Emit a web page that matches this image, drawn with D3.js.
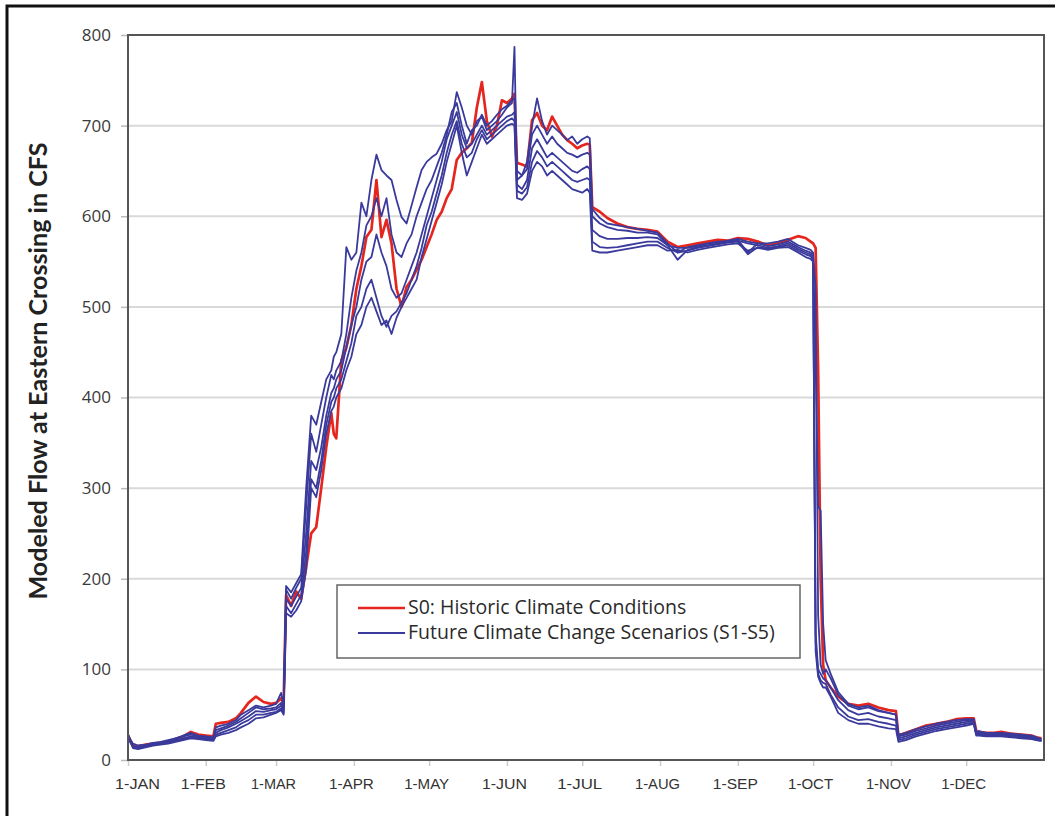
<!DOCTYPE html>
<html>
<head>
<meta charset="utf-8">
<script src="https://cdn.jsdelivr.net/npm/d3@7"></script>
<style>body{margin:0;background:#fff;}</style>
</head>
<body>
<script>
// day of year (0 = 1-Jan) for every reading
const days = [
	0,2,4,7,10,13,16,19,22,25,28,
	31,34,35,37,40,43,45,48,51,54,57,
	59,61,62,63,65,67,69,71,73,75,77,79,81,82,83,85,87,89,
	91,93,95,97,99,101,103,105,107,109,111,113,115,117,119,
	121,123,125,127,129,131,133,135,137,139,141,143,145,147,149,151,153,
	154,155,
	157,159,161,163,165,167,169,171,173,175,177,179,181,
	183,184,185,
	188,191,195,199,203,207,211,
	215,219,223,227,231,235,239,243,
	247,251,255,259,263,267,270,272,
	273,274,275,276,277,278,280,283,287,291,295,299,303,306,
	307,310,314,318,322,326,330,334,337,338,
	339,342,345,348,352,356,360,362,364
];

const monthDays = [0,31,59,90,120,151,181,212,243,273,304,334];
const monthLabels = ["1-JAN","1-FEB","1-MAR","1-APR","1-MAY","1-JUN","1-JUL","1-AUG","1-SEP","1-OCT","1-NOV","1-DEC"];
const yTicks = [0,100,200,300,400,500,600,700,800];

// S0 historic
const historic = [
	27,16,15,17,18,19,20,23,26,31,28,
	27,26,40,41,42,46,52,63,70,64,62,
	63,68,62,182,170,186,178,213,250,257,300,345,383,360,355,441,455,480,
	520,545,577,585,640,577,596,570,520,500,522,530,541,552,566,
	580,596,605,620,630,662,670,675,681,720,748,705,688,700,728,725,730,
	735,659,
	657,655,706,714,700,695,710,700,690,684,680,675,678,
	680,679,610,
	605,598,592,588,586,585,583,
	572,566,568,570,572,574,573,576,
	575,572,568,570,574,578,576,572,
	570,565,430,200,105,88,80,70,62,60,62,58,55,54,
	27,30,34,38,40,42,45,46,46,32,
	31,30,30,31,29,28,27,25,24
];

// S1-S5 future scenarios
const s1 = [
	29,15,14,16,18,19,21,24,27,30,27,
	26,25,36,38,40,44,50,55,60,58,60,
	62,74,60,192,185,195,205,300,380,370,395,420,430,445,450,470,566,552,
	560,615,600,640,668,651,645,640,618,599,592,612,632,651,660,
	665,669,680,695,705,737,720,700,690,705,710,695,700,705,712,720,725,
	787,640,
	645,660,700,730,705,690,700,695,690,684,688,680,685,
	688,686,608,
	598,592,590,588,586,584,582,
	570,560,566,568,570,572,572,574,
	560,570,570,572,575,568,565,563,
	560,440,280,275,150,110,95,75,62,58,60,55,52,50,
	28,30,34,37,40,42,44,45,45,31,
	32,30,30,30,29,28,27,25,23
];
const s2 = [
	26,18,16,17,19,20,22,24,26,28,26,
	25,24,33,35,38,42,46,52,58,56,57,
	58,63,57,188,178,190,200,280,360,340,370,400,425,420,430,440,470,510,
	540,560,590,600,620,600,620,580,560,555,570,580,600,615,630,
	640,655,670,690,715,725,700,680,695,700,712,700,705,712,718,722,728,
	730,650,
	645,652,690,700,690,680,688,680,675,670,668,665,668,
	670,668,600,
	592,588,585,584,582,582,580,
	568,565,565,567,570,571,573,575,
	572,570,567,569,572,566,562,560,
	558,520,160,105,95,100,90,72,60,56,58,54,52,50,
	26,28,32,35,38,40,42,44,44,30,
	30,29,29,29,28,27,26,24,23
];
const s3 = [
	24,14,13,15,17,18,20,22,24,26,25,
	24,23,30,33,36,40,43,48,54,53,55,
	56,60,54,178,170,180,190,250,330,320,345,380,405,410,420,430,455,480,
	500,530,550,555,580,560,545,520,510,515,530,545,560,580,600,
	620,640,660,685,700,715,690,675,680,690,700,690,695,700,705,710,712,
	715,635,
	630,640,675,685,675,665,670,665,660,655,650,648,652,
	655,652,585,
	578,575,575,576,576,577,576,
	568,552,563,566,568,570,572,573,
	570,568,565,567,570,564,560,558,
	555,140,100,95,90,88,80,66,55,50,52,48,46,44,
	24,26,30,33,36,38,40,42,42,29,
	29,28,28,28,27,26,25,23,22
];
const s4 = [
	25,15,14,16,17,18,19,21,23,25,24,
	23,22,28,30,33,36,40,44,50,50,52,
	53,57,52,170,162,172,182,230,310,300,330,370,395,400,410,420,440,460,
	490,500,520,530,510,490,478,490,495,505,515,530,545,565,590,
	605,625,645,670,690,705,680,665,670,685,695,685,690,695,700,705,708,
	705,628,
	625,632,660,672,665,655,660,655,650,645,640,638,640,
	642,640,572,
	566,565,566,568,570,572,572,
	565,560,562,565,567,569,571,572,
	558,566,564,566,568,562,558,556,
	552,130,95,88,85,84,72,58,48,44,45,42,40,38,
	22,24,28,31,34,36,38,40,41,28,
	28,27,27,27,26,25,24,22,21
];
const s5 = [
	27,13,12,14,16,17,18,20,22,24,23,
	22,21,26,28,30,33,36,40,46,47,50,
	52,55,50,162,158,165,175,210,300,290,320,360,385,390,400,410,430,445,
	470,480,500,510,495,480,485,470,488,500,510,520,530,555,575,
	595,615,635,660,680,700,670,645,660,675,690,680,685,690,695,700,702,
	700,620,
	618,625,650,660,655,645,650,645,640,635,630,628,626,
	630,626,562,
	560,560,562,564,566,568,568,
	562,563,560,563,565,567,569,570,
	562,565,563,565,566,560,555,553,
	550,120,92,85,80,80,70,52,44,40,40,37,35,34,
	20,22,26,29,32,34,36,38,40,27,
	27,26,26,26,25,24,23,22,21
];
const scenarios = [s1, s2, s3, s4, s5];
const legendLabels = ["S0: Historic Climate Conditions", "Future Climate Change Scenarios (S1-S5)"];

function init(){
	const svg = d3.select("body").append("svg")
		.attr("width", 1055)
		.attr("height", 816)
		.style("background-color", "#fff");

	// outer frame (cropped at right and bottom)
	svg.append("path")
		.attr("d", "M7,816 V6 H1055")
		.attr("fill", "none")
		.attr("stroke", "#111")
		.attr("stroke-width", 3);

	const left = 128, right = 1044, top = 35, bottom = 760;
	const x = d3.scaleLinear().domain([0, 365]).range([left, right]);
	const y = d3.scaleLinear().domain([0, 800]).range([bottom, top]);

	// gridlines
	svg.append("g").selectAll("line")
		.data(yTicks.filter(t => t > 0 && t < 800))
		.join("line")
		.attr("x1", left).attr("x2", right)
		.attr("y1", d => y(d)).attr("y2", d => y(d))
		.attr("stroke", "#d9d9d9")
		.attr("stroke-width", 2);

	// y axis
	const yAxis = svg.append("g")
		.attr("transform", `translate(${left},0)`)
		.call(d3.axisLeft(y).tickValues(yTicks).tickSize(7).tickPadding(10).tickFormat(d3.format("d")));
	yAxis.select(".domain").remove();
	yAxis.selectAll(".tick line").attr("stroke", "#bbb").attr("stroke-width", 1.5);
	yAxis.selectAll("text")
		.attr("font-family", "'Open Sans', Lato, sans-serif")
		.attr("font-size", "17px")
		.attr("fill", "#3a3a3a");

	// x axis
	const xAxis = svg.append("g")
		.attr("transform", `translate(0,${bottom})`)
		.call(d3.axisBottom(x).tickValues(monthDays).tickSize(6).tickPadding(13)
			.tickFormat((d, i) => monthLabels[i]));
	xAxis.select(".domain").remove();
	xAxis.selectAll(".tick line").attr("stroke", "#ccc").attr("stroke-width", 1.5);
	xAxis.selectAll("text")
		.attr("font-family", "'Liberation Sans', Arial, sans-serif")
		.attr("font-size", "14px")
		.attr("fill", "#333")
		.attr("dx", (d, i) => i === 0 ? 9 : -3)
		.attr("textLength", 45)
		.attr("lengthAdjust", "spacingAndGlyphs");

	const line = d3.line()
		.defined(d => d[1] != null)
		.x(d => x(d[0]))
		.y(d => y(d[1]));

	svg.append("path")
		.datum(days.map((d, i) => [d, historic[i]]))
		.attr("fill", "none")
		.attr("stroke", "#e5261f")
		.attr("stroke-width", 2.7)
		.attr("stroke-linejoin", "round")
		.attr("d", line);

	svg.append("g").selectAll("path")
		.data(scenarios)
		.join("path")
		.attr("fill", "none")
		.attr("stroke", "#3a3a9c")
		.attr("stroke-width", 1.8)
		.attr("stroke-linejoin", "round")
		.attr("d", s => line(days.map((d, i) => [d, s[i]])));

	// plot frame
	svg.append("rect")
		.attr("x", left).attr("y", top)
		.attr("width", right - left).attr("height", bottom - top)
		.attr("fill", "none")
		.attr("stroke", "#555")
		.attr("stroke-width", 2);

	// y title
	const yTitle = svg.append("text")
		.attr("transform", "translate(47,371) rotate(-90)")
		.attr("text-anchor", "middle")
		.attr("font-family", "Lato, 'Open Sans', sans-serif")
		.attr("font-weight", "bold")
		.attr("font-size", "20px")
		.attr("fill", "#222")
		.text("Modeled Flow at Eastern Crossing in CFS");
	const tw = yTitle.node().getComputedTextLength();
	yTitle.attr("font-size", (20 * 457 / tw).toFixed(2) + "px");

	// legend
	const legend = svg.append("g");
	legend.append("rect")
		.attr("x", 337).attr("y", 585)
		.attr("width", 463).attr("height", 73)
		.attr("fill", "#fff")
		.attr("stroke", "#666")
		.attr("stroke-width", 1.5);
	const legendColors = ["#e5261f", "#3a3a9c"];
	const legendWidths = [2.7, 1.8];
	const legendTexts = legendLabels.map((lab, i) => {
		const ly = 608 + i * 25;
		legend.append("line")
			.attr("x1", 358).attr("x2", 405)
			.attr("y1", ly).attr("y2", ly)
			.attr("stroke", legendColors[i])
			.attr("stroke-width", legendWidths[i]);
		return legend.append("text")
			.attr("x", 408).attr("y", ly + 6)
			.attr("font-family", "'Open Sans', Lato, sans-serif")
			.attr("font-size", "16px")
			.attr("fill", "#2a2a2a")
			.text(lab);
	});
	const lw = legendTexts[1].node().getComputedTextLength();
	legendTexts.forEach(t => t.attr("font-size", (16 * 367 / lw).toFixed(2) + "px"));
}
init();
</script>
</body>
</html>
